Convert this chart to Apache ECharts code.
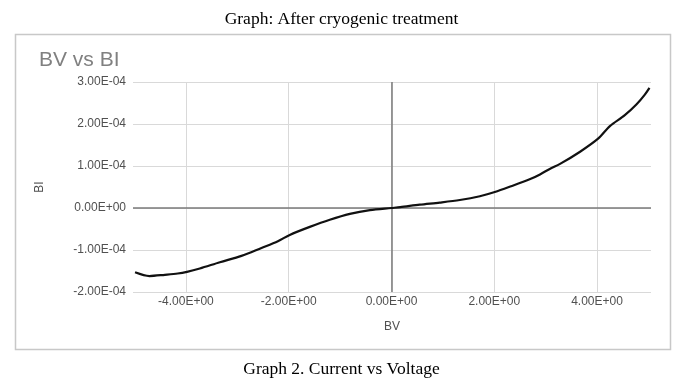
<!DOCTYPE html>
<html>
<head>
<meta charset="utf-8">
<script src="https://cdn.jsdelivr.net/npm/echarts@6/dist/echarts.min.js"></script>
<style>
html,body{margin:0;padding:0;background:#fff;}
#c{width:683px;height:387px;}
</style>
</head>
<body>
<div id="c"></div>
<script>
var pageTitle = 'Graph: After cryogenic treatment';
var caption = 'Graph 2. Current vs Voltage';
var chartTitle = 'BV vs BI';
var xName = 'BV';
var yName = 'BI';
var xTicks = [-4, -2, 0, 2, 4];
var yTicks = [-2e-4, -1e-4, 0, 1e-4, 2e-4, 3e-4];
var bv = [-4.99, -4.71, -4.41, -4.16, -3.98, -3.73, -3.34, -2.92, -2.53, -2.21, -1.98, -1.59, -1.20, -0.81, -0.42, 0, 0.17, 0.55, 0.94, 1.33, 1.72, 2.01, 2.31, 2.70, 2.89, 3.08, 3.28, 3.67, 4.02, 4.25, 4.54, 4.77, 4.93, 5.02];
var bi = [-1.53e-4, -1.62e-4, -1.59e-4, -1.56e-4, -1.52e-4, -1.44e-4, -1.29e-4, -1.14e-4, -0.95e-4, -0.79e-4, -0.64e-4, -0.45e-4, -0.28e-4, -0.14e-4, -0.05e-4, 0, 0.02e-4, 0.08e-4, 0.13e-4, 0.19e-4, 0.28e-4, 0.38e-4, 0.51e-4, 0.69e-4, 0.80e-4, 0.93e-4, 1.05e-4, 1.34e-4, 1.65e-4, 1.95e-4, 2.21e-4, 2.47e-4, 2.70e-4, 2.86e-4];

function sci(v) {
  var s = Number(v).toExponential(2).toUpperCase();
  var m = s.match(/^(-?[\d.]+)E([+-])(\d+)$/);
  if (!m) return s;
  var e = m[3].length < 2 ? '0' + m[3] : m[3];
  return m[1] + 'E' + m[2] + e;
}

var data = bv.map(function (x, i) { return [x, bi[i]]; });

var chart = echarts.init(document.getElementById('c'), null, {renderer: 'canvas'});
var lblColor = '#505050';
chart.setOption({
  animation: false,
  backgroundColor: '#fff',
  title: [
    {text: pageTitle, left: 'center', top: 5, textStyle: {fontFamily: 'Liberation Serif', fontSize: 17.5, fontWeight: 'normal', color: '#000'}},
    {text: chartTitle, left: 34, top: 45, textStyle: {fontFamily: 'Liberation Sans', fontSize: 21, fontWeight: 'normal', color: '#808080'}},
    {text: caption, left: 'center', top: 355, textStyle: {fontFamily: 'Liberation Serif', fontSize: 17.5, fontWeight: 'normal', color: '#000'}}
  ],
  graphic: [
    {type: 'rect', shape: {x: 15.5, y: 34.5, width: 655, height: 315}, style: {fill: 'none', stroke: '#c8c8c8', lineWidth: 1.5}, z: -1}
  ],
  grid: {left: 133, right: 32, top: 82, bottom: 95, containLabel: false},
  xAxis: {
    type: 'value', min: -5.03, max: 5.05,
    name: xName, nameLocation: 'middle', nameGap: 29,
    nameTextStyle: {fontFamily: 'Liberation Sans', fontSize: 12, color: lblColor},
    axisLine: {show: false},
    axisTick: {show: false, customValues: xTicks},
    axisLabel: {customValues: xTicks, formatter: sci, margin: 4, fontFamily: 'Liberation Sans', fontSize: 12, color: lblColor},
    splitLine: {show: true, lineStyle: {color: '#d9d9d9', width: 1}}
  },
  yAxis: {
    type: 'value', min: -2e-4, max: 3e-4, interval: 1e-4,
    name: yName, nameLocation: 'middle', nameGap: 87,
    nameTextStyle: {fontFamily: 'Liberation Sans', fontSize: 12, color: lblColor},
    axisLine: {show: false},
    axisTick: {show: false},
    axisLabel: {formatter: sci, margin: 7, fontFamily: 'Liberation Sans', fontSize: 12, color: lblColor},
    splitLine: {show: true, lineStyle: {color: '#d9d9d9', width: 1}}
  },
  series: [{
    type: 'line',
    data: data,
    smooth: 0.3,
    showSymbol: false,
    lineStyle: {color: '#111', width: 2.2},
    z: 5,
    markLine: {
      silent: true,
      symbol: ['none', 'none'],
      label: {show: false},
      lineStyle: {color: '#7a7a7a', width: 1.5, type: 'solid'},
      data: [{xAxis: 0}, {yAxis: 0}],
      z: 3
    }
  }]
});
</script>
</body>
</html>
